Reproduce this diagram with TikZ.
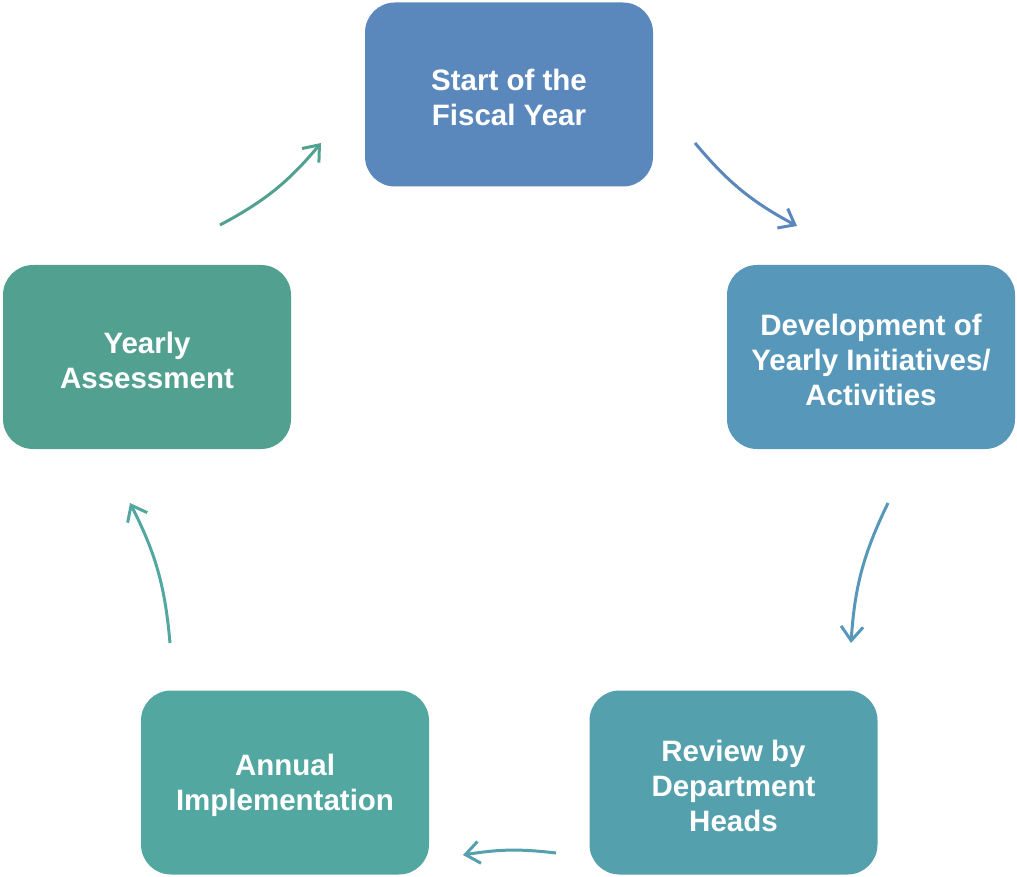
\documentclass[tikz,border=0pt]{standalone}
\usepackage{fontspec}
\setmainfont{Liberation Sans}
\usetikzlibrary{arrows.meta}
\definecolor{cA}{RGB}{91,136,188}
\definecolor{cB}{RGB}{87,152,186}
\definecolor{cC}{RGB}{84,160,173}
\definecolor{cD}{RGB}{82,167,160}
\definecolor{cE}{RGB}{82,161,144}
\tikzset{
  stepbox/.style={rounded corners=30pt, minimum width=288pt, minimum height=184pt, inner sep=0pt},
  boxtext/.style={text=white, align=center, inner sep=0pt,
    font=\fontsize{29.5pt}{35pt}\selectfont\bfseries},
  cyc/.style={line width=3pt, -{Straight Barb[length=14pt,width=22pt,line width=3pt]}}
}
\begin{document}
\begin{tikzpicture}[x=1pt,y=-1pt]
\useasboundingbox (0,0) rectangle (1017,877);
\node[stepbox, fill=cA] (s) at (509,94.5) {};
\node[stepbox, fill=cB] (d) at (871,357) {};
\node[stepbox, fill=cC] (r) at (733.5,782.5) {};
\node[stepbox, fill=cD] (a) at (285,782.5) {};
\node[stepbox, fill=cE] (y) at (147,357) {};
\node[boxtext] (st) at ([yshift=-3pt]s.center) {Start of the\\Fiscal Year};
\node[boxtext] (dt) at ([yshift=-3pt]d.center) {Development of\\Yearly Initiatives/\\Activities};
\node[boxtext] (rt) at ([yshift=-3pt]r.center) {Review by\\Department\\Heads};
\node[boxtext] (at) at ([yshift=-3pt]a.center) {Annual\\Implementation};
\node[boxtext] (yt) at ([yshift=-3pt]y.center) {Yearly\\Assessment};
\coordinate (a1s) at (695,143); \coordinate (a1e) at (797,226);
\coordinate (a2s) at (888,503); \coordinate (a2e) at (851,643);
\coordinate (a3s) at (556,853); \coordinate (a3e) at (463,855);
\coordinate (a4s) at (170,643); \coordinate (a4e) at (130,503);
\coordinate (a5s) at (220,225); \coordinate (a5e) at (321,143);
\draw[cyc, cA] (a1s) to[bend right=11] (a1e);
\draw[cyc, cB] (a2s) to[bend right=11] (a2e);
\draw[cyc, cC] (a3s) to[bend right=8] (a3e);
\draw[cyc, cD] (a4s) to[bend right=11] (a4e);
\draw[cyc, cE] (a5s) to[bend right=11] (a5e);
\end{tikzpicture}
\end{document}
